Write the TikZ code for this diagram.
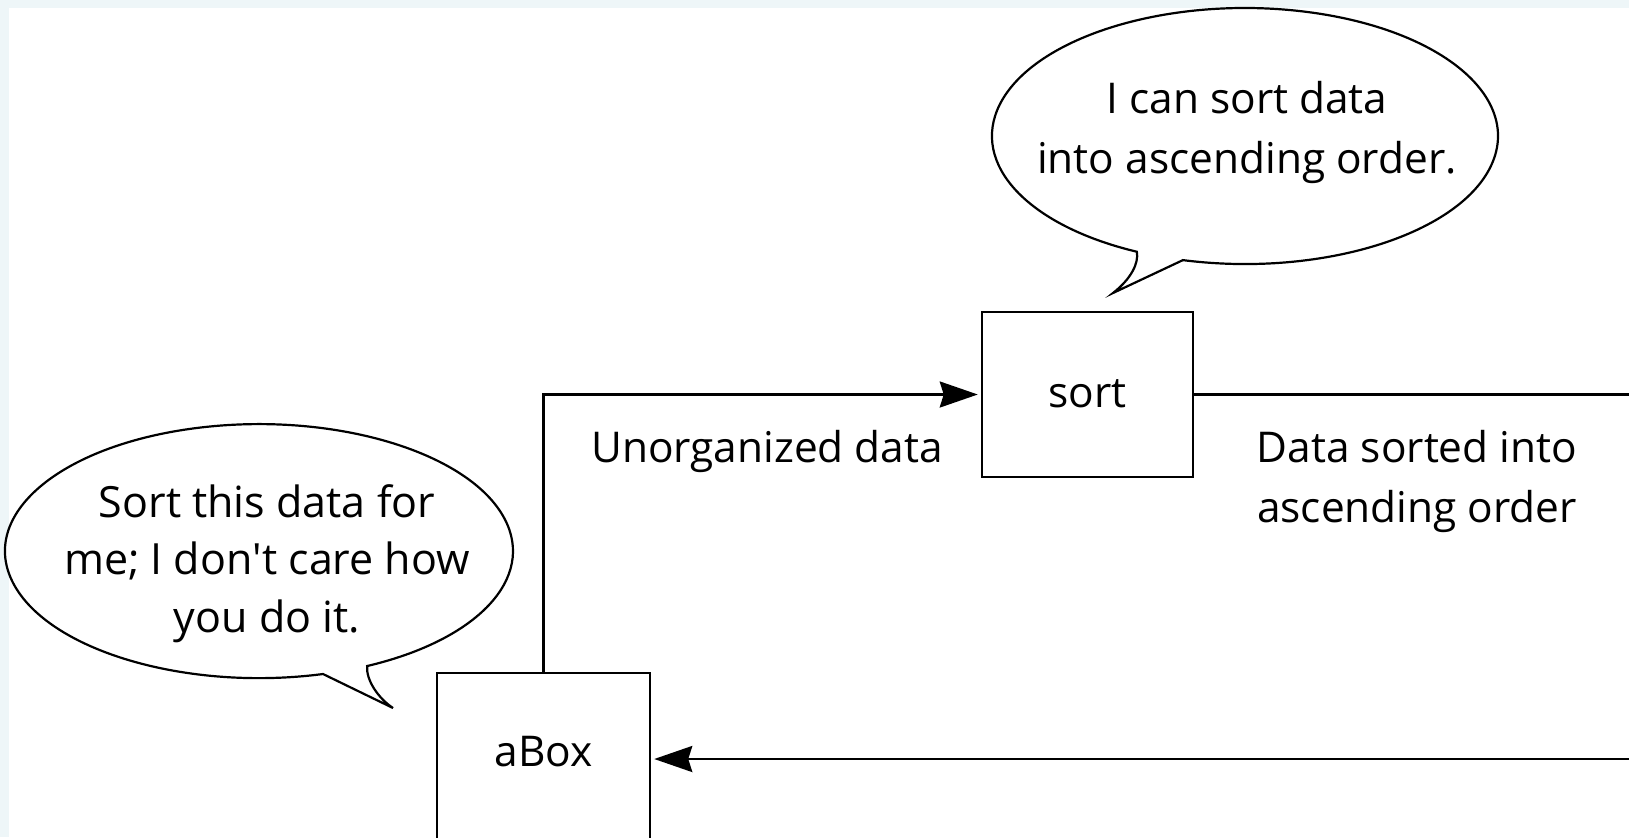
\documentclass[tikz,border=0pt]{standalone}
\usepackage{fontspec}
\setmainfont{Open Sans}
\usetikzlibrary{arrows.meta}
\definecolor{framebg}{RGB}{238,246,248}
\tikzset{
  boxnode/.style={draw=black, line width=1.25pt, fill=white, rectangle, inner sep=0pt,
    minimum width=105.5pt},
  conn/.style={draw=black, line width=1.25pt},
  arrowconn/.style={conn, -{Stealth[length=19pt,width=13pt,inset=2pt]}, shorten >=1.5pt},
  bubble/.style={draw=black, line width=1.1pt, fill=white, line join=miter},
  txt/.style={inner sep=0pt, align=center},
}
\begin{document}
\begin{tikzpicture}[x=0.5pt,y=-0.5pt, font=\fontsize{21.2}{30}\selectfont]
\useasboundingbox (0,0) rectangle (1629,837);
\clip (0,0) rectangle (1629,837);
\fill[framebg] (0,0) rectangle (1629,837);
\fill[white] (9,8) rectangle (1629,837);

% speech bubble of aBox
\draw[bubble] (323,674) arc[start angle=75.4, end angle=424.8, x radius=254, y radius=127]
  .. controls (366,680) and (378,698) .. (393,708) -- cycle;
% speech bubble of sort
\draw[bubble] (1182.9,260.1) arc[start angle=104.2, end angle=-244.7, x radius=253, y radius=128]
  .. controls (1139,263) and (1131,279) .. (1113,293) -- cycle;

\node[txt] (tsort) at (1247,132) {I can sort data\\into ascending order.};
\node[txt, font=\fontsize{21.5}{28.75}\selectfont] (tabox) at (267,563.5)
  {Sort this data for\\me; I don\textquotesingle t care how\\you do it.};

% boxes
\node[boxnode, minimum height=82.5pt, text height=12.5pt, text depth=0pt] (sort) at (1087.5,394.5) {sort};
\node[boxnode, minimum width=106.5pt, minimum height=93.5pt, text height=0pt, text depth=0pt] (abox) at (543.5,766.5) {aBox};

\coordinate (rtop) at (1645,394.5);
\coordinate (rbot) at (1645,759);

\draw[arrowconn] (abox.north) |- (sort.west);
\draw[conn] (sort.east) -- (rtop);
\draw[arrowconn] (rbot) -- (rbot -| abox.east);

\node[anchor=base, inner sep=0pt] (lunorg) at (767,462) {Unorganized data};
\node[txt] (lsorted) at (1417,481) {Data sorted into\\ascending order};
\end{tikzpicture}
\end{document}
